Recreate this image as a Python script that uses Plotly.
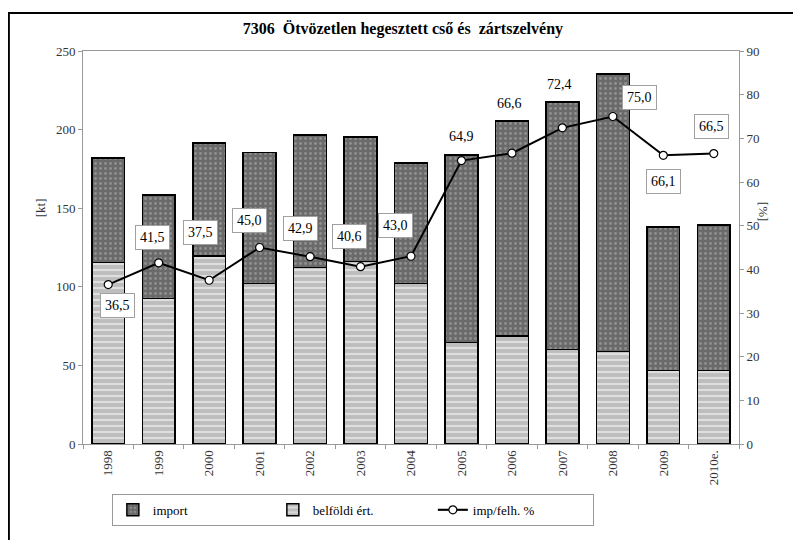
import plotly.graph_objects as go

# years and values
years = ["1998", "1999", "2000", "2001", "2002", "2003", "2004",
         "2005", "2006", "2007", "2008", "2009", "2010e."]
belfoldi = [115.5, 92.7, 119.5, 102.0, 112.3, 116.0, 102.0,
            64.5, 68.6, 60.0, 59.0, 46.8, 46.7]
import_kt = [66.5, 65.7, 72.0, 83.5, 84.3, 79.3, 76.8,
             119.5, 136.9, 157.6, 176.5, 91.2, 92.6]
imp_pct = [36.5, 41.5, 37.5, 45.0, 42.9, 40.6, 43.0,
           64.9, 66.6, 72.4, 75.0, 66.1, 66.5]

# label placement (pixel offsets from the point) and whether boxed
lbl_dx = [9, -6, -9, -10, -10, -11, -16, 0, -2, -3, 27, 0, -2]
lbl_dy = [-21, 25, 48, 27, 28, 30, 31, 24, 50, 43, 19, -26, 27]
lbl_box = [True, True, True, True, True, True, True,
           False, False, False, True, True, True]

serif = "Liberation Serif"

fig = go.Figure()

fig.add_trace(go.Bar(
    x=years, y=belfoldi, name="belföldi ért.", legendrank=2,
    marker=dict(color="#c4c4c4", line=dict(color="black", width=1.5),
                pattern=dict(shape="-", bgcolor="#bdbdbd", fgcolor="white",
                             size=6, solidity=0.35)),
))
fig.add_trace(go.Bar(
    x=years, y=import_kt, name="import", legendrank=1,
    marker=dict(color="#6a6a6a", line=dict(color="black", width=1.5),
                pattern=dict(shape=".", bgcolor="#6a6a6a", fgcolor="#b5b5b5",
                             size=5, solidity=0.25)),
))
fig.add_trace(go.Scatter(
    x=years, y=imp_pct, name="imp/felh. %", yaxis="y2", legendrank=3,
    mode="lines+markers",
    line=dict(color="black", width=2),
    marker=dict(symbol="circle", size=8, color="white",
                line=dict(color="black", width=1.2)),
))

# category index used for the annotations (numeric-looking names would be read as positions)
for i, (v, dx, dy, box) in enumerate(zip(imp_pct, lbl_dx, lbl_dy, lbl_box)):
    fig.add_annotation(
        x=i, y=v, xref="x", yref="y2", showarrow=False,
        text=f"{v:.1f}".replace(".", ","),
        xshift=dx, yshift=dy,
        font=dict(family=serif, size=14, color="black"),
        bgcolor="white" if box else "rgba(0,0,0,0)",
        bordercolor="#a0a0a0" if box else "rgba(0,0,0,0)",
        borderwidth=1, borderpad=4,
    )

# axis titles
fig.add_annotation(x=-0.08, y=0.6, xref="paper", yref="paper", text="[kt]",
                   textangle=-90, showarrow=False,
                   font=dict(family=serif, size=13, color="#333"))
fig.add_annotation(x=1.053, y=0.59, xref="paper", yref="paper", text="[%]",
                   textangle=90, showarrow=False,
                   font=dict(family=serif, size=13, color="#333"))

# outer frame
fig.add_shape(type="rect", xref="paper", yref="paper",
              x0=-0.113, x1=1.2, y0=-0.4, y1=1.097,
              line=dict(color="black", width=2), layer="below")

# the page body adds an 8px offset, so the margins are shifted to compensate
fig.update_layout(
    width=801, height=540,
    margin=dict(l=75, r=70, t=43, b=104),
    paper_bgcolor="white", plot_bgcolor="white",
    barmode="stack", bargap=0.35,
    font=dict(family=serif, size=12, color="#333"),
    title=dict(text="<b>7306  Ötvözetlen hegesztett cső és  zártszelvény</b>",
               x=0.493, xanchor="center", y=0.963, yanchor="middle",
               font=dict(family=serif, size=16, color="black")),
    xaxis=dict(type="category", range=[-0.5, len(years) - 0.5],
               tickangle=-90, showline=True,
               linecolor="#999", mirror=True, ticks="outside",
               tickson="boundaries", ticklen=4, tickcolor="#999",
               tickfont=dict(family=serif, size=13, color="#333")),
    yaxis=dict(range=[0, 250], dtick=50, showgrid=False, showline=True,
               linecolor="#999", ticks="outside", ticklen=4, tickcolor="#999",
               zeroline=False,
               tickfont=dict(family=serif, size=13, color="#333")),
    yaxis2=dict(range=[0, 90], dtick=10, overlaying="y", side="right",
                showgrid=False, showline=True, linecolor="#999",
                ticks="outside", ticklen=4, tickcolor="#999", zeroline=False,
                tickfont=dict(family=serif, size=13, color="#333")),
    legend=dict(orientation="h", x=0.044, y=-0.127, xanchor="left",
                yanchor="top", bordercolor="#999", borderwidth=1,
                entrywidth=115, traceorder="normal",
                font=dict(family=serif, size=13, color="black")),
    showlegend=True,
)

fig.write_html("out.html")
